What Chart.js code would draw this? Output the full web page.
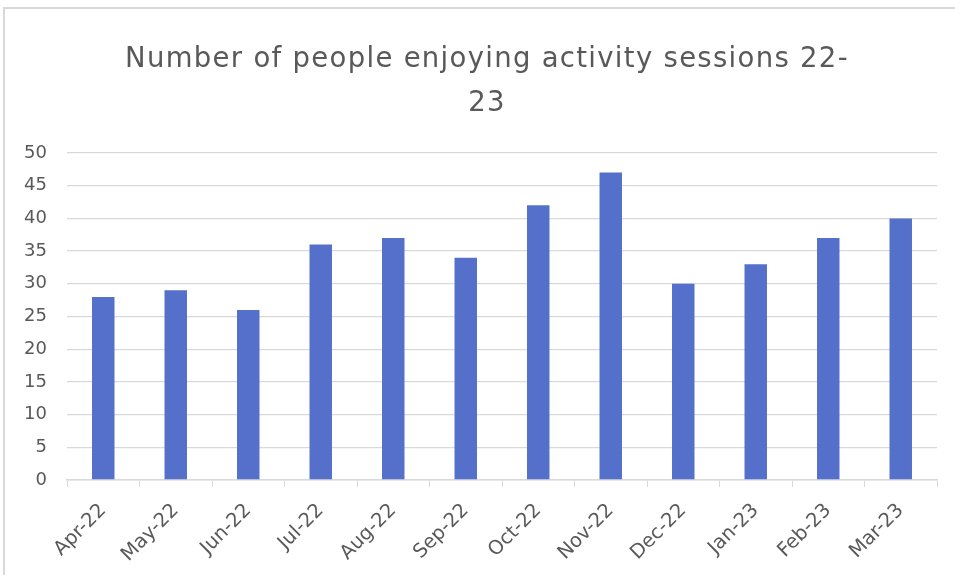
<!DOCTYPE html>
<html>
<head>
<meta charset="utf-8">
<script src="https://cdn.jsdelivr.net/npm/chart.js@4/dist/chart.umd.min.js"></script>
<style>
    html, body { margin: 0; padding: 0; background: #fff; overflow: hidden; width: 955px; height: 575px; }
    #frame {
        position: absolute; left: 3px; top: 7px; width: 950px; height: 566px;
        border-top: 2px solid #d9d9d9; border-left: 2px solid #d9d9d9;
    }
    #wrap { position: absolute; left: 0; top: 0; width: 950px; height: 566px; }
</style>
</head>
<body>
<div id="frame"><div id="wrap"><canvas id="thongKe"></canvas></div></div>
<script>
    const months = ['Apr-22', 'May-22', 'Jun-22', 'Jul-22', 'Aug-22', 'Sep-22',
        'Oct-22', 'Nov-22', 'Dec-22', 'Jan-23', 'Feb-23', 'Mar-23'];
    const people = [28, 29, 26, 36, 37, 34, 42, 47, 30, 33, 37, 40];
    const titleLines = ['Number of people enjoying activity sessions 22-', '23'];

    const grey = '#595959';
    const lineGrey = '#d9d9d9';

    // tieu de: gian chu them mot chut va lech phai nhu hinh goc
    const titleSpacing = {
        id: 'titleSpacing',
        afterInit(chart) {
            const box = chart.titleBlock;
            const draw = box.draw;
            box.draw = function () {
                chart.ctx.save();
                chart.ctx.letterSpacing = '1.3px';
                chart.ctx.translate(16, 0);
                draw.apply(this, arguments);
                chart.ctx.restore();
            };
        }
    };

    new Chart(document.getElementById('thongKe'), {
        type: 'bar',
        data: {
            labels: months,
            datasets: [{
                label: 'People',
                data: people,
                backgroundColor: '#5470CB',
                categoryPercentage: 1,
                barPercentage: 0.31
            }]
        },
        plugins: [titleSpacing],
        options: {
            responsive: true,
            maintainAspectRatio: false,
            animation: false,
            layout: { padding: { left: 0, right: 18, top: 0, bottom: 0 } },
            plugins: {
                legend: { display: false },
                tooltip: { enabled: false },
                title: {
                    display: true,
                    text: titleLines,
                    color: grey,
                    font: { family: 'DejaVu Sans', size: 27.5, weight: 'normal', lineHeight: 1.6 },
                    padding: { top: 29, bottom: 27 }
                }
            },
            scales: {
                x: {
                    grid: { drawOnChartArea: false, color: lineGrey, tickLength: 7 },
                    border: { color: lineGrey, width: 1.5 },
                    ticks: {
                        color: grey, font: { family: 'DejaVu Sans', size: 19.5 },
                        maxRotation: 45, minRotation: 45, padding: 12
                    },
                    afterFit: function (axis) { axis.height = 95; }
                },
                y: {
                    min: 0, max: 50,
                    grid: { color: lineGrey, drawTicks: false, lineWidth: 1.3 },
                    border: { display: false },
                    ticks: {
                        stepSize: 5, color: grey, padding: 20,
                        font: { family: 'DejaVu Sans', size: 18 }
                    },
                    afterFit: function (axis) { axis.width = 62; }
                }
            }
        }
    });
</script>
</body>
</html>
